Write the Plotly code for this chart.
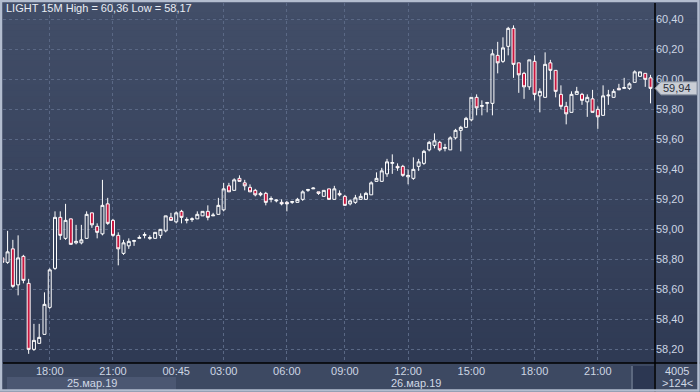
import plotly.graph_objects as go

# ---------------- data (15M bars, index 0..123) ----------------
opens = [58.81, 58.78, 58.87, 58.63, 58.82, 58.64, 58.20, 58.24, 58.30, 58.48,
         58.74, 59.08, 58.94, 59.07, 58.91, 58.91, 58.94, 59.11, 59.02, 58.97,
         59.17, 59.06, 58.96, 58.84, 58.89, 58.92, 58.94, 58.96, 58.94, 58.94,
         58.96, 58.99, 59.08, 59.05, 59.12, 59.06, 59.065, 59.07, 59.09, 59.12,
         59.09, 59.10, 59.13, 59.29, 59.26, 59.34, 59.31, 59.28, 59.26, 59.24,
         59.24, 59.20, 59.19, 59.18, 59.18, 59.18, 59.18, 59.20, 59.26, 59.27,
         59.25, 59.22, 59.27, 59.20, 59.24, 59.22, 59.17, 59.18, 59.20, 59.20,
         59.23, 59.32, 59.32, 59.37, 59.44, 59.42, 59.42, 59.35, 59.34, 59.42,
         59.44, 59.53, 59.56, 59.58, 59.54, 59.53, 59.61, 59.66, 59.68, 59.73,
         59.88, 59.82, 59.84, 59.84, 60.16, 60.12, 60.22, 60.34, 60.11, 60.04,
         59.95, 60.12, 59.89, 59.88, 60.11, 60.06, 59.90, 59.82, 59.78, 59.90,
         59.90, 59.85, 59.87, 59.80, 59.76, 59.89, 59.88, 59.94, 59.94, 59.94,
         59.98, 60.02, 60.04, 60.01]
highs = [58.82, 58.99, 58.93, 58.96, 58.83, 58.67, 58.37, 58.37, 58.58, 58.74,
         59.12, 59.12, 59.17, 59.07, 59.03, 59.03, 59.12, 59.11, 59.04, 59.33,
         59.21, 59.07, 58.98, 58.93, 58.94, 58.93, 58.96, 58.98, 58.96, 58.98,
         59.00, 59.09, 59.11, 59.12, 59.13, 59.08, 59.08, 59.12, 59.12, 59.16,
         59.11, 59.21, 59.31, 59.31, 59.34, 59.36, 59.33, 59.30, 59.27, 59.25,
         59.25, 59.22, 59.20, 59.20, 59.19, 59.19, 59.21, 59.26, 59.27, 59.28,
         59.25, 59.26, 59.27, 59.29, 59.26, 59.23, 59.20, 59.23, 59.24, 59.25,
         59.32, 59.38, 59.41, 59.47, 59.50, 59.44, 59.43, 59.40, 59.48, 59.47,
         59.53, 59.59, 59.64, 59.59, 59.57, 59.62, 59.67, 59.69, 59.75, 59.88,
         59.90, 59.86, 59.85, 60.20, 60.25, 60.28, 60.35, 60.36, 60.11, 60.05,
         60.13, 60.16, 59.94, 60.18, 60.13, 60.06, 59.96, 59.85, 59.92, 59.95,
         59.91, 59.90, 59.93, 59.82, 59.96, 59.93, 59.935, 59.97, 60.01, 59.98,
         60.06, 60.05, 60.04, 60.03]
lows = [58.77, 58.77, 58.61, 58.56, 58.64, 58.17, 58.19, 58.24, 58.30, 58.47,
        58.73, 58.93, 58.93, 58.90, 58.90, 58.90, 58.94, 59.01, 58.94, 58.96,
        59.03, 58.95, 58.76, 58.83, 58.87, 58.89, 58.94, 58.94, 58.93, 58.94,
        58.94, 58.98, 59.06, 59.04, 59.04, 59.04, 59.05, 59.07, 59.09, 59.06,
        59.09, 59.10, 59.12, 59.25, 59.26, 59.32, 59.26, 59.25, 59.22, 59.22,
        59.16, 59.18, 59.18, 59.16, 59.12, 59.17, 59.18, 59.19, 59.25, 59.27,
        59.23, 59.22, 59.20, 59.20, 59.22, 59.16, 59.16, 59.17, 59.20, 59.20,
        59.23, 59.32, 59.32, 59.35, 59.37, 59.39, 59.35, 59.30, 59.33, 59.39,
        59.43, 59.52, 59.54, 59.52, 59.52, 59.53, 59.60, 59.52, 59.68, 59.72,
        59.76, 59.76, 59.78, 59.76, 60.04, 60.11, 60.16, 60.01, 59.91, 59.87,
        59.93, 59.86, 59.78, 59.88, 60.00, 59.88, 59.80, 59.70, 59.78, 59.90,
        59.83, 59.75, 59.78, 59.67, 59.76, 59.83, 59.88, 59.93, 59.94, 59.93,
        59.98, 60.02, 59.95, 59.84]
closes = [58.78, 58.85, 58.62, 58.81, 58.66, 58.20, 58.26, 58.28, 58.50, 58.73,
          59.08, 58.96, 59.06, 58.90, 58.92, 58.93, 59.10, 59.03, 58.98, 59.16,
          59.04, 58.96, 58.87, 58.91, 58.92, 58.925, 58.945, 58.965, 58.945, 58.98,
          59.00, 59.09, 59.06, 59.11, 59.08, 59.065, 59.07, 59.10, 59.12, 59.08,
          59.095, 59.16, 59.27, 59.25, 59.33, 59.32, 59.29, 59.25, 59.23, 59.23,
          59.18, 59.205, 59.195, 59.17, 59.17, 59.185, 59.20, 59.25, 59.265, 59.275,
          59.24, 59.26, 59.20, 59.27, 59.23, 59.16, 59.19, 59.21, 59.22, 59.24,
          59.31, 59.34, 59.39, 59.45, 59.445, 59.41, 59.36, 59.36, 59.40, 59.45,
          59.52, 59.58, 59.59, 59.53, 59.545, 59.61, 59.66, 59.68, 59.74, 59.88,
          59.81, 59.825, 59.845, 60.17, 60.11, 60.21, 60.34, 60.10, 60.03, 59.95,
          60.13, 59.90, 59.92, 60.10, 60.06, 59.92, 59.82, 59.77, 59.90, 59.92,
          59.86, 59.88, 59.78, 59.75, 59.89, 59.895, 59.92, 59.93, 59.945, 59.97,
          60.05, 60.05, 60.00, 59.94]
bar_index = list(range(len(closes)))

time_tick_pos = [9, 21, 33, 42, 54, 65, 77, 89, 101, 113]
time_tick_text = ["18:00", "21:00", "00:45", "03:00", "06:00", "09:00",
                  "12:00", "15:00", "18:00", "21:00"]
price_tick_vals = [58.2, 58.4, 58.6, 58.8, 59.0, 59.2, 59.4, 59.6, 59.8, 60.0, 60.2, 60.4]
price_tick_text = ["58,20", "58,40", "58,60", "58,80", "59,00", "59,20",
                   "59,40", "59,60", "59,80", "60,00", "60,20", "60,40"]
date_labels = ["25.мар.19", "26.мар.19"]
title_text = "LIGHT 15M High = 60,36 Low = 58,17"
counter_top = "4005"
counter_bottom = ">124<"

# ---------------- layout geometry helpers (pixels -> paper) ----------------
W, H = 700, 392
PL, PR, PT, PB = 3, 655, 3, 363


def fx(px):
    return (px - PL) / (PR - PL)


def fy(py):
    return (PB - py) / (PB - PT)


FONT = "Liberation Sans Narrow, Liberation Sans, Arial, sans-serif"

fig = go.Figure()
fig.add_trace(go.Candlestick(
    x=bar_index, open=opens, high=highs, low=lows, close=closes,
    increasing=dict(line=dict(color="#ffffff", width=1), fillcolor="rgba(0,0,0,0)"),
    decreasing=dict(line=dict(color="#ffffff", width=1), fillcolor="#c8173f"),
    whiskerwidth=0, hoverinfo="skip", showlegend=False,
))

shapes = []
# vertical gradient background (plot + right axis)
top_c = (66, 78, 104)
bot_c = (47, 58, 84)
N = 60
for k in range(N):
    y0 = 0 + (PB - 0) * k / N
    y1 = 0 + (PB - 0) * (k + 1) / N + 0.5
    t = (k + 0.5) / N
    c = tuple(int(round(top_c[j] + (bot_c[j] - top_c[j]) * t)) for j in range(3))
    shapes.append(dict(type="rect", xref="paper", yref="paper", layer="below",
                       x0=fx(0), x1=fx(W), y0=fy(y1), y1=fy(y0),
                       line=dict(width=0), fillcolor="rgb(%d,%d,%d)" % c))
# bottom strip
shapes.append(dict(type="rect", xref="paper", yref="paper", layer="below",
                   x0=fx(0), x1=fx(W), y0=fy(H), y1=fy(PB),
                   line=dict(width=0), fillcolor="#3d4962"))
# date band for first day
shapes.append(dict(type="rect", xref="paper", yref="paper", layer="below",
                   x0=fx(7), x1=fx(176), y0=fy(390), y1=fy(377),
                   line=dict(width=0), fillcolor="#4b5772"))
# dark small box bottom right
shapes.append(dict(type="rect", xref="paper", yref="paper", layer="below",
                   x0=fx(633), x1=fx(654), y0=fy(389), y1=fy(366),
                   line=dict(width=0), fillcolor="#2c3752"))
shapes.append(dict(type="line", xref="paper", yref="paper", layer="below",
                   x0=fx(632), x1=fx(632), y0=fy(389), y1=fy(366),
                   line=dict(width=1, color="#7d889c")))
# black axis lines
shapes.append(dict(type="line", xref="paper", yref="paper", layer="above",
                   x0=fx(PL), x1=fx(W), y0=fy(PB), y1=fy(PB),
                   line=dict(width=1.5, color="#000000")))
shapes.append(dict(type="line", xref="paper", yref="paper", layer="above",
                   x0=fx(PR), x1=fx(PR), y0=fy(H), y1=fy(PT),
                   line=dict(width=1.5, color="#000000")))
# outer frame
shapes.append(dict(type="rect", xref="paper", yref="paper", layer="above",
                   x0=fx(1), x1=fx(W - 1.5), y0=fy(H - 1.5), y1=fy(1),
                   line=dict(width=2.5, color="#b3bdcf"), fillcolor="rgba(0,0,0,0)"))
# last-price marker
last = closes[-1]
hh = 6.5 / 150.0
shapes.append(dict(type="path", xref="paper", yref="y", layer="above",
                   path="M %f,%f L %f,%f L %f,%f L %f,%f L %f,%f Z" % (
                       fx(655), last,
                       fx(661), last + hh,
                       fx(697), last + hh,
                       fx(697), last - hh,
                       fx(661), last - hh),
                   line=dict(width=1, color="#8a93a3"), fillcolor="#c9cdd5"))

annotations = [
    dict(text=title_text, xref="paper", yref="paper", x=fx(4), y=fy(8.5),
         xanchor="left", yanchor="middle", showarrow=False,
         font=dict(family=FONT, size=11, color="#e8ecf4")),
    dict(text=date_labels[0], xref="paper", yref="paper", x=fx(92), y=fy(383),
         xanchor="center", yanchor="middle", showarrow=False,
         font=dict(family=FONT, size=11, color="#d0d8e6")),
    dict(text=date_labels[1], xref="paper", yref="paper", x=fx(416), y=fy(383),
         xanchor="center", yanchor="middle", showarrow=False,
         font=dict(family=FONT, size=11, color="#d0d8e6")),
    dict(text=counter_top, xref="paper", yref="paper", x=fx(677), y=fy(370.5),
         xanchor="center", yanchor="middle", showarrow=False,
         font=dict(family=FONT, size=11, color="#d0d8e6")),
    dict(text=counter_bottom, xref="paper", yref="paper", x=fx(677), y=fy(383),
         xanchor="center", yanchor="middle", showarrow=False,
         font=dict(family=FONT, size=11, color="#d0d8e6")),
    dict(text=("%.2f" % last).replace(".", ","), xref="paper", yref="y",
         x=fx(677), y=last, xanchor="center", yanchor="middle", showarrow=False,
         font=dict(family=FONT, size=11, color="#2a2f3a")),
]

fig.update_layout(
    width=W, height=H,
    margin=dict(l=PL, r=W - PR, t=PT, b=H - PB, pad=0),
    paper_bgcolor="#3a4660",
    plot_bgcolor="rgba(0,0,0,0)",
    shapes=shapes,
    annotations=annotations,
    showlegend=False,
    hovermode=False,
    boxgap=0.25, boxgroupgap=0.25,
    xaxis=dict(
        range=[0.13, 123.85], rangeslider=dict(visible=False),
        tickmode="array", tickvals=time_tick_pos, ticktext=time_tick_text,
        showgrid=True, gridcolor="#5a6885", gridwidth=1, griddash="3px,3px",
        zeroline=False, showline=False, ticks="",
        tickfont=dict(family=FONT, size=11, color="#cdd6e4"),
    ),
    yaxis=dict(
        range=[58.109, 60.509], side="right",
        tickmode="array", tickvals=price_tick_vals, ticktext=price_tick_text,
        showgrid=True, gridcolor="#5a6885", gridwidth=1, griddash="3px,3px",
        zeroline=False, showline=False, ticks="",
        tickfont=dict(family=FONT, size=11, color="#cdd6e4"),
    ),
)

fig.write_html(
    "out.html",
    config={"displayModeBar": False, "staticPlot": True},
    post_script="document.body.style.margin='0';document.body.style.overflow='hidden';",
)
